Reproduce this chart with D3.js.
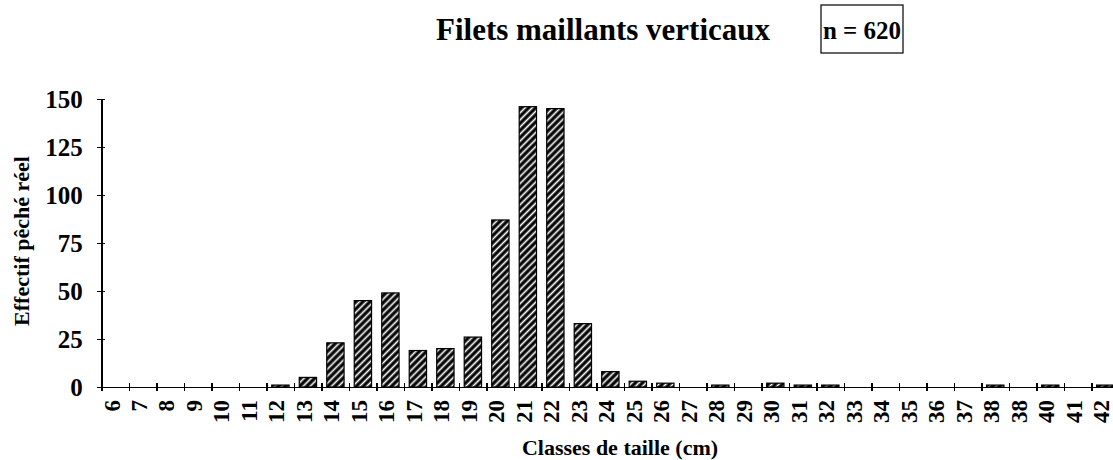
<!DOCTYPE html>
<html lang="fr">
  <head>
    <meta charset="UTF-8">
    <script type="text/javascript" src="https://cdn.jsdelivr.net/npm/d3@7"></script>
    <style>
      body { margin: 0; background: #fff; }
      svg text {
        font-family: 'Liberation Serif', 'Times New Roman', serif;
        font-weight: bold;
        fill: #000;
      }
      .axis path,
      .axis line {
        stroke: #000;
        stroke-width: 1.5;
        shape-rendering: crispEdges;
      }
    </style>
    <title>Filets maillants verticaux</title>
  </head>
  <body>
    <script type="text/javascript">
      // Size classes (cm) as printed on the axis (note the second "38")
      let classes = ['6','7','8','9','10','11','12','13','14','15','16','17','18','19',
                     '20','21','22','23','24','25','26','27','28','29','30','31','32',
                     '33','34','35','36','37','38','38','40','41','42'];
      // Effectif pêché réel, total = 620
      let counts = [0, 0, 0, 0, 0, 0, 1, 5, 23, 45, 49, 19, 20, 26,
                    87, 146, 145, 33, 8, 3, 2, 0, 1, 0, 2, 1, 1,
                    0, 0, 0, 0, 0, 1, 0, 1, 0, 1];
      let yTicks = [0, 25, 50, 75, 100, 125, 150];

      let w = 1113;
      let h = 460;
      let plotLeft = 101.7, plotRight = 1119, plotTop = 99, plotBottom = 387;

      let svg = d3.select('body')
                  .append('svg')
                  .attr('width', w)
                  .attr('height', h);

      // Diagonal hatching: white stripes on black
      svg.append('defs')
        .append('pattern')
          .attr('id', 'hatch')
          .attr('patternUnits', 'userSpaceOnUse')
          .attr('width', 5)
          .attr('height', 5)
          .attr('patternTransform', 'rotate(45)')
        .call(p => {
          p.append('rect').attr('width', 5).attr('height', 5).attr('fill', '#000');
          p.append('line').attr('x1', 2.5).attr('y1', 0).attr('x2', 2.5).attr('y2', 5)
            .attr('stroke', '#fff').attr('stroke-width', 1.7);
        });

      let idx = d3.range(classes.length);

      let xScale = d3.scaleBand()
                      .domain(idx)
                      .range([plotLeft, plotRight])
                      .paddingInner(0.37)
                      .paddingOuter(0.185);
      // Boundaries between classes, where the tick marks sit
      let edgeScale = d3.scaleLinear()
                      .domain([0, classes.length])
                      .range([plotLeft, plotRight]);
      let yScale = d3.scaleLinear()
                      .domain([0, 150])
                      .range([plotBottom, plotTop]);

      // Bars
      svg.selectAll('rect.bar')
          .data(idx)
          .enter()
          .append('rect')
          .attr('class', 'bar')
          .attr('x', i => xScale(i))
          .attr('width', xScale.bandwidth())
          .attr('y', i => yScale(counts[i]))
          .attr('height', i => yScale(0) - yScale(counts[i]))
          .attr('fill', 'url(#hatch)')
          .attr('stroke', '#000')
          .attr('stroke-width', i => counts[i] > 0 ? 1.2 : 0);

      // x axis: line + crossing ticks at class boundaries
      let xAxis = d3.axisBottom(edgeScale)
                      .tickValues(d3.range(classes.length + 1))
                      .tickFormat('')
                      .tickSize(4)
                      .tickSizeOuter(0);
      let gx = svg.append('g')
          .attr('class', 'x axis')
          .attr('transform', 'translate(0,' + plotBottom + ')')
          .call(xAxis);
      gx.selectAll('.tick line').attr('y1', -4);

      // x labels, rotated, centred on each class
      svg.append('g')
        .selectAll('text')
          .data(idx)
          .enter()
          .append('text')
          .attr('transform', i => 'translate(' + (xScale(i) + xScale.bandwidth() / 2 - 4) + ',400) rotate(-90)')
          .attr('text-anchor', 'end')
          .attr('dy', '0.35em')
          .style('font-size', '23px')
          .text(i => classes[i]);

      // y axis
      let yAxis = d3.axisLeft(yScale)
                      .tickValues(yTicks)
                      .tickSize(5)
                      .tickSizeOuter(0)
                      .tickPadding(14);
      let gy = svg.append('g')
          .attr('class', 'y axis')
          .attr('transform', 'translate(' + plotLeft + ',0)')
          .call(yAxis);
      gy.selectAll('.tick line').attr('x1', 3);
      gy.selectAll('.tick text').style('font-size', '25px').attr('dy', '0.33em');

      // Titles
      svg.append('text')
          .attr('x', 603)
          .attr('y', 40)
          .attr('text-anchor', 'middle')
          .style('font-size', '31px')
          .text('Filets maillants verticaux');

      let nBox = svg.append('g');
      nBox.append('rect')
          .attr('x', 821)
          .attr('y', 5)
          .attr('width', 82)
          .attr('height', 48)
          .attr('fill', 'none')
          .attr('stroke', '#000')
          .attr('stroke-width', 1.2);
      nBox.append('text')
          .attr('x', 862)
          .attr('y', 39)
          .attr('text-anchor', 'middle')
          .style('font-size', '25px')
          .text('n = 620');

      svg.append('text')
          .attr('x', 620)
          .attr('y', 455)
          .attr('text-anchor', 'middle')
          .style('font-size', '22px')
          .text('Classes de taille (cm)');

      svg.append('text')
          .attr('transform', 'translate(29,241) rotate(-90)')
          .attr('text-anchor', 'middle')
          .style('font-size', '22px')
          .text('Effectif pêché réel');
    </script>
  </body>
</html>
